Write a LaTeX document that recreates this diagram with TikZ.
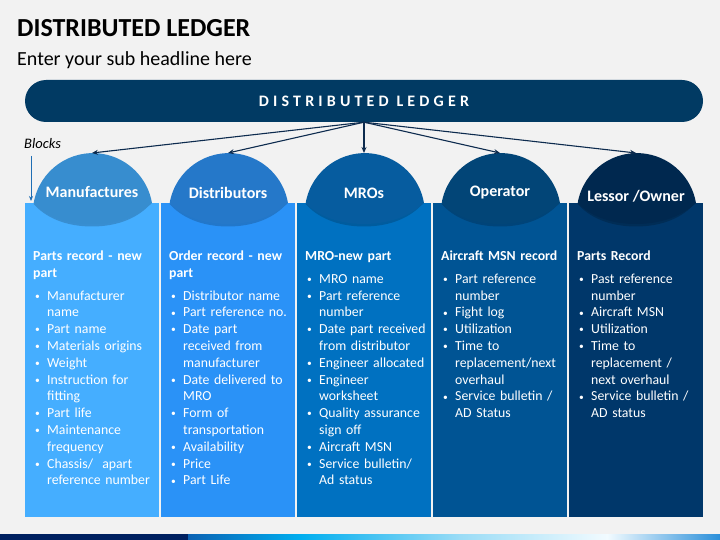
\documentclass[tikz,border=0pt]{standalone}
\usepackage{fontspec}
\setmainfont{Carlito}
\usetikzlibrary{arrows.meta}
\definecolor{bg}{HTML}{F2F2F2}
\definecolor{navy}{HTML}{013A63}
\definecolor{arrowc}{HTML}{0D2B4E}
\definecolor{blkc}{HTML}{1F6EB4}
\definecolor{bodyA}{HTML}{45AEFF}
\definecolor{domeA}{HTML}{378DCF}
\definecolor{bodyB}{HTML}{2A92F7}
\definecolor{domeB}{HTML}{2578C9}
\definecolor{bodyC}{HTML}{0071C1}
\definecolor{domeC}{HTML}{065C9F}
\definecolor{bodyD}{HTML}{005494}
\definecolor{domeD}{HTML}{024577}
\definecolor{bodyE}{HTML}{00376A}
\definecolor{domeE}{HTML}{00284F}
\definecolor{barnavy}{HTML}{002060}
\definecolor{gA}{HTML}{0B62B3}
\definecolor{gB}{HTML}{00AEEF}
\definecolor{gC}{HTML}{9ADCF6}
\definecolor{gD}{HTML}{F2FBFF}
\definecolor{gE}{HTML}{2A8FDA}
\newcommand\hd[1]{\textbf{#1}}
\newcommand\bl{\makebox[14pt][l]{\hspace{2pt}\raisebox{0.8pt}{\fontsize{9.5}{9.5}\selectfont\textbullet}}}
\newcommand\ct{\hspace*{14pt}}
\newcommand\ledgercol[6]{%
  \pgfmathsetmacro\cx{#1+67}%
  \fill[#2] (#1,203) rectangle ++(134,314);
  \fill[black,opacity=0.18] (\cx-58.3,204) .. controls (\cx-47,217) and (\cx-27,226.5) .. (\cx,226.5) .. controls (\cx+27,226.5) and (\cx+47,217) .. (\cx+58.3,204) -- cycle;
  \fill[#3] (\cx-58.3,203) arc[start angle=189.7,end angle=350.3,radius=60] .. controls (\cx+47,215) and (\cx+27,224) .. (\cx,224) .. controls (\cx-27,224) and (\cx-47,215) .. (\cx-58.3,203) -- cycle;
  \node[domelabel] (#5) at (\cx,#6) {#4};
  \coordinate (#5top) at (\cx,153);
}
\tikzset{
  domelabel/.style={text=white,font=\fontsize{16}{19}\selectfont\bfseries,inner sep=0},
  colbody/.style={text=white,text width=140pt,align=left,inner sep=0,anchor=base west,font=\fontsize{13.8}{16.8}\selectfont},
  arr/.style={draw=arrowc,line width=1.1pt,-{Stealth[length=6pt,width=5pt]}},
}
\begin{document}
\begin{tikzpicture}[x=1pt,y=-1pt]
\useasboundingbox (0,0) rectangle (720,540);
\fill[bg] (0,0) rectangle (720,540);
% titles
\node[anchor=base west,inner sep=0,font=\fontsize{26}{30}\selectfont\bfseries] (title) at (17,36.5) {DISTRIBUTED LEDGER};
\node[anchor=base west,inner sep=0,font=\fontsize{20}{24}\selectfont] (sub) at (17,65.5) {Enter your sub headline here};
% header bar
\node[fill=navy,rounded corners=21pt,minimum width=678pt,minimum height=42pt,inner sep=0,text=white,font=\fontsize{16}{19}\selectfont\bfseries\addfontfeature{LetterSpace=26}] (hdr) at (364,101) {DISTRIBUTED LEDGER};
% columns
\ledgercol{25}{bodyA}{domeA}{Manufactures}{d1}{192}
\ledgercol{161}{bodyB}{domeB}{Distributors}{d2}{193}
\ledgercol{297}{bodyC}{domeC}{MROs}{d3}{193}
\ledgercol{433}{bodyD}{domeD}{Operator}{d4}{193}
\ledgercol{569}{bodyE}{domeE}{Lessor /Owner}{d5}{196}
% arrows
\draw[arr] (hdr.south) -- (d1top);
\draw[arr] (hdr.south) -- (d2top);
\draw[arr] (hdr.south) -- (d3top);
\draw[arr] (hdr.south) -- (d4top);
\draw[arr] (hdr.south) -- (d5top);
% blocks
\node[anchor=base west,inner sep=0,font=\fontsize{14.5}{17}\selectfont\itshape] (blk) at (24,148.5) {Blocks};
\coordinate (blkA) at (31,156);
\coordinate (blkB) at (31,201);
\draw[draw=blkc,line width=0.9pt,-{Stealth[length=5pt,width=4pt]}] (blkA) -- (blkB);
% column texts
\node[colbody] (t1) at (33,260.5) {\hd{Parts record - new}\\\hd{part}\\[6pt]
\bl Manufacturer\\\ct name\\\bl Part name\\\bl Materials origins\\\bl Weight\\\bl Instruction for\\\ct fitting\\\bl Part life\\\bl Maintenance\\\ct frequency\\\bl Chassis/~ apart\\\ct reference number};
\node[colbody] (t2) at (169,260.5) {\hd{Order record - new}\\\hd{part}\\[6pt]
\bl Distributor name\\\bl Part reference no.\\\bl Date part\\\ct received from\\\ct manufacturer\\\bl Date delivered to\\\ct MRO\\\bl Form of\\\ct transportation\\\bl Availability\\\bl Price\\\bl Part Life};
\node[colbody] (t3) at (305,260.5) {\hd{MRO-new part}\\[6pt]
\bl MRO name\\\bl Part reference\\\ct number\\\bl Date part received\\\ct from distributor\\\bl Engineer allocated\\\bl Engineer\\\ct worksheet\\\bl Quality assurance\\\ct sign off\\\bl Aircraft MSN\\\bl Service bulletin/\\\ct Ad status};
\node[colbody] (t4) at (441,260.5) {\hd{Aircraft MSN record}\\[6pt]
\bl Part reference\\\ct number\\\bl Fight log\\\bl Utilization\\\bl Time to\\\ct replacement/next\\\ct overhaul\\\bl Service bulletin~/\\\ct AD Status};
\node[colbody] (t5) at (577,260.5) {\hd{Parts Record}\\[6pt]
\bl Past reference\\\ct number\\\bl Aircraft MSN\\\bl Utilization\\\bl Time to\\\ct replacement /\\\ct next overhaul\\\bl Service bulletin~/\\\ct AD status};
% bottom bar
\fill[barnavy] (0,534) rectangle (188.5,540);
\shade[left color=gA,right color=gB] (188,534) rectangle (300.5,540);
\shade[left color=gB,right color=gC] (300,534) rectangle (460.5,540);
\shade[left color=gC,right color=gD] (460,534) rectangle (607.5,540);
\shade[left color=gD,right color=gE] (607,534) rectangle (720,540);
\end{tikzpicture}
\end{document}
